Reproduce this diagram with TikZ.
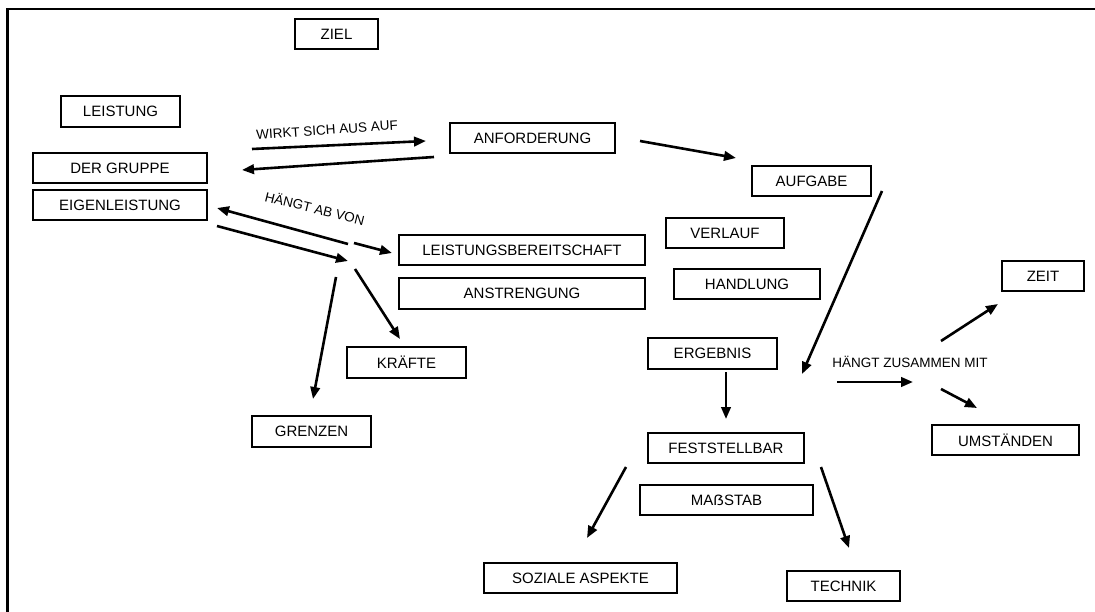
\documentclass[tikz,border=0pt]{standalone}
\usepackage{fontspec}
\setmainfont{Liberation Sans}
\usetikzlibrary{arrows.meta}
\begin{document}
\begin{tikzpicture}[x=1pt,y=-1pt,
  box/.style={draw=black,line width=1.25pt,inner sep=0pt,minimum height=30pt,font=\fontsize{15}{15}\selectfont,text=black},
  lbl/.style={inner sep=0pt,font=\fontsize{13.5}{13.5}\selectfont,text=black},
  arr/.style={line width=2.6pt,-{Triangle[length=12pt,width=9.5pt]}},
  frame/.style={line width=2.2pt}]
\useasboundingbox (0,0) rectangle (1095,612);
\coordinate (f1) at (7.5,612);
\coordinate (f2) at (7.5,9);
\coordinate (f3) at (1095,9);
\draw[frame] (f1) -- (f2) -- (f3);

\node[box,minimum width=83pt] (ziel) at (336.5,34) {ZIEL};
\node[box,minimum width=119pt,minimum height=31pt] (leistung) at (120.5,111.5) {LEISTUNG};
\node[box,minimum width=174pt] (gruppe) at (120,168) {DER GRUPPE};
\node[box,minimum width=174pt] (eigen) at (120,205) {EIGENLEISTUNG};
\node[box,minimum width=165pt] (anf) at (532.5,138) {ANFORDERUNG};
\node[box,minimum width=246pt] (lbs) at (522,250) {LEISTUNGSBEREITSCHAFT};
\node[box,minimum width=246pt,minimum height=31pt] (anstr) at (522,293.5) {ANSTRENGUNG};
\node[box,minimum width=119pt,minimum height=31pt] (kraefte) at (406.5,362.5) {KRÄFTE};
\node[box,minimum width=119pt,minimum height=31pt] (grenzen) at (311.5,431.5) {GRENZEN};
\node[box,minimum width=119pt] (aufgabe) at (811.5,181) {AUFGABE};
\node[box,minimum width=118pt] (verlauf) at (725,233) {VERLAUF};
\node[box,minimum width=146pt] (handlung) at (747,284) {HANDLUNG};
\node[box,minimum width=129pt,minimum height=31pt] (ergebnis) at (712.5,353.5) {ERGEBNIS};
\node[box,minimum width=156pt] (fest) at (726,448) {FESTSTELLBAR};
\node[box,minimum width=173pt] (mass) at (726.5,500) {MAẞSTAB};
\node[box,minimum width=193pt] (sozial) at (580.5,578) {SOZIALE ASPEKTE};
\node[box,minimum width=113pt] (technik) at (843.5,586) {TECHNIK};
\node[box,minimum width=82pt] (zeit) at (1043,276) {ZEIT};
\node[box,minimum width=147pt] (umst) at (1005.5,440) {UMSTÄNDEN};

\node[lbl,rotate=4] (l1) at (327,130) {WIRKT SICH AUS AUF};
\node[lbl,rotate=-14] (l2) at (315,208) {HÄNGT AB VON};
\node[lbl] (l3) at (910,362) {HÄNGT ZUSAMMEN MIT};

% connector end points
\coordinate (a1s) at (252,149); \coordinate (a1e) at (426,141);
\coordinate (a2s) at (434,157); \coordinate (a2e) at (242,170);
\coordinate (a3s) at (348,244); \coordinate (a3e) at (217,208);
\coordinate (a4s) at (354,243); \coordinate (a4e) at (392,253);
\coordinate (a5s) at (217,226); \coordinate (a5e) at (348,261);
\coordinate (a6s) at (336,277); \coordinate (a6e) at (313,399);
\coordinate (a7s) at (355,269); \coordinate (a7e) at (400,339);
\coordinate (a8s) at (640,141); \coordinate (a8e) at (736,158);
\coordinate (a9s) at (882,191); \coordinate (a9e) at (802,374);
\coordinate (a10s) at (726,372); \coordinate (a10e) at (726,419);
\coordinate (a11s) at (837,382); \coordinate (a11e) at (913,382);
\coordinate (a12s) at (941,341); \coordinate (a12e) at (998,304);
\coordinate (a13s) at (941,389); \coordinate (a13e) at (977,408);
\coordinate (a14s) at (626,467); \coordinate (a14e) at (587,538);
\coordinate (a15s) at (821,467); \coordinate (a15e) at (849,548);

\draw[arr] (a1s) -- (a1e);
\draw[arr] (a2s) -- (a2e);
\draw[arr] (a3s) -- (a3e);
\draw[arr] (a4s) -- (a4e);
\draw[arr] (a5s) -- (a5e);
\draw[arr] (a6s) -- (a6e);
\draw[arr] (a7s) -- (a7e);
\draw[arr] (a8s) -- (a8e);
\draw[arr] (a9s) -- (a9e);
\draw[arr] (a10s) -- (a10e);
\draw[arr] (a11s) -- (a11e);
\draw[arr] (a12s) -- (a12e);
\draw[arr] (a13s) -- (a13e);
\draw[arr] (a14s) -- (a14e);
\draw[arr] (a15s) -- (a15e);
\end{tikzpicture}
\end{document}
